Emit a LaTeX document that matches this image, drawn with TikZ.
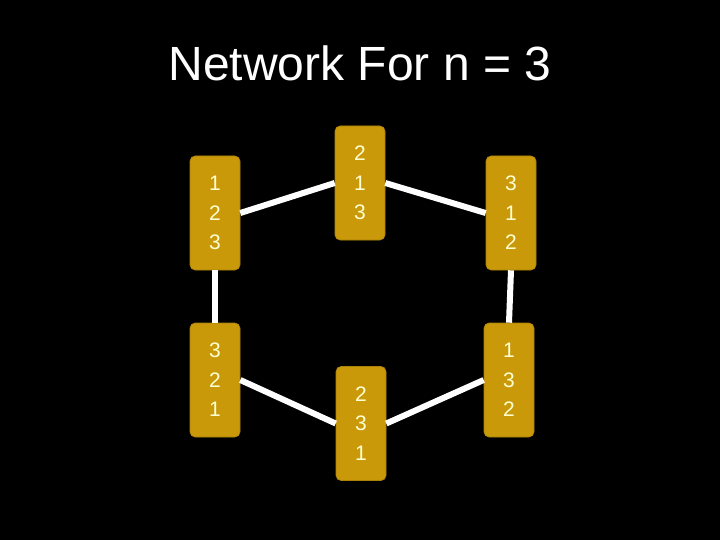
\documentclass[tikz,border=0pt]{standalone}
\usepackage{fontspec}
\setmainfont{Liberation Sans}
\definecolor{gold}{RGB}{201,153,10}
\definecolor{cream}{RGB}{255,255,210}
\tikzset{
  perm/.style={rectangle, rounded corners=5pt, fill=gold, draw=gold!85!black, line width=0.6pt,
    minimum width=50pt, minimum height=114pt, inner sep=0pt, align=center,
    text=cream, font=\fontsize{21}{29.5}\selectfont},
  link/.style={draw=white, line width=6pt}
}
\begin{document}
\begin{tikzpicture}[x=1pt,y=-1pt]
\fill[black] (0,0) rectangle (720,540);
\useasboundingbox (0,0) rectangle (720,540);
\node[anchor=base, text=white, font=\fontsize{48}{56}\selectfont] (title) at (360,81) {Network For n = 3};
\node[perm] (a) at (215,213) {1\\2\\3};
\node[perm] (b) at (360,183) {2\\1\\3};
\node[perm] (c) at (511,213) {3\\1\\2};
\node[perm] (d) at (215,380) {3\\2\\1};
\node[perm] (e) at (361,423.5) {2\\3\\1};
\node[perm] (f) at (509,380) {1\\3\\2};
\draw[link] (a.east) -- (b.west);
\draw[link] (b.east) -- (c.west);
\draw[link] (a.south) -- (d.north);
\draw[link] (c.south) -- (f.north);
\draw[link] (d.east) -- (e.west);
\draw[link] (e.east) -- (f.west);
\end{tikzpicture}
\end{document}
